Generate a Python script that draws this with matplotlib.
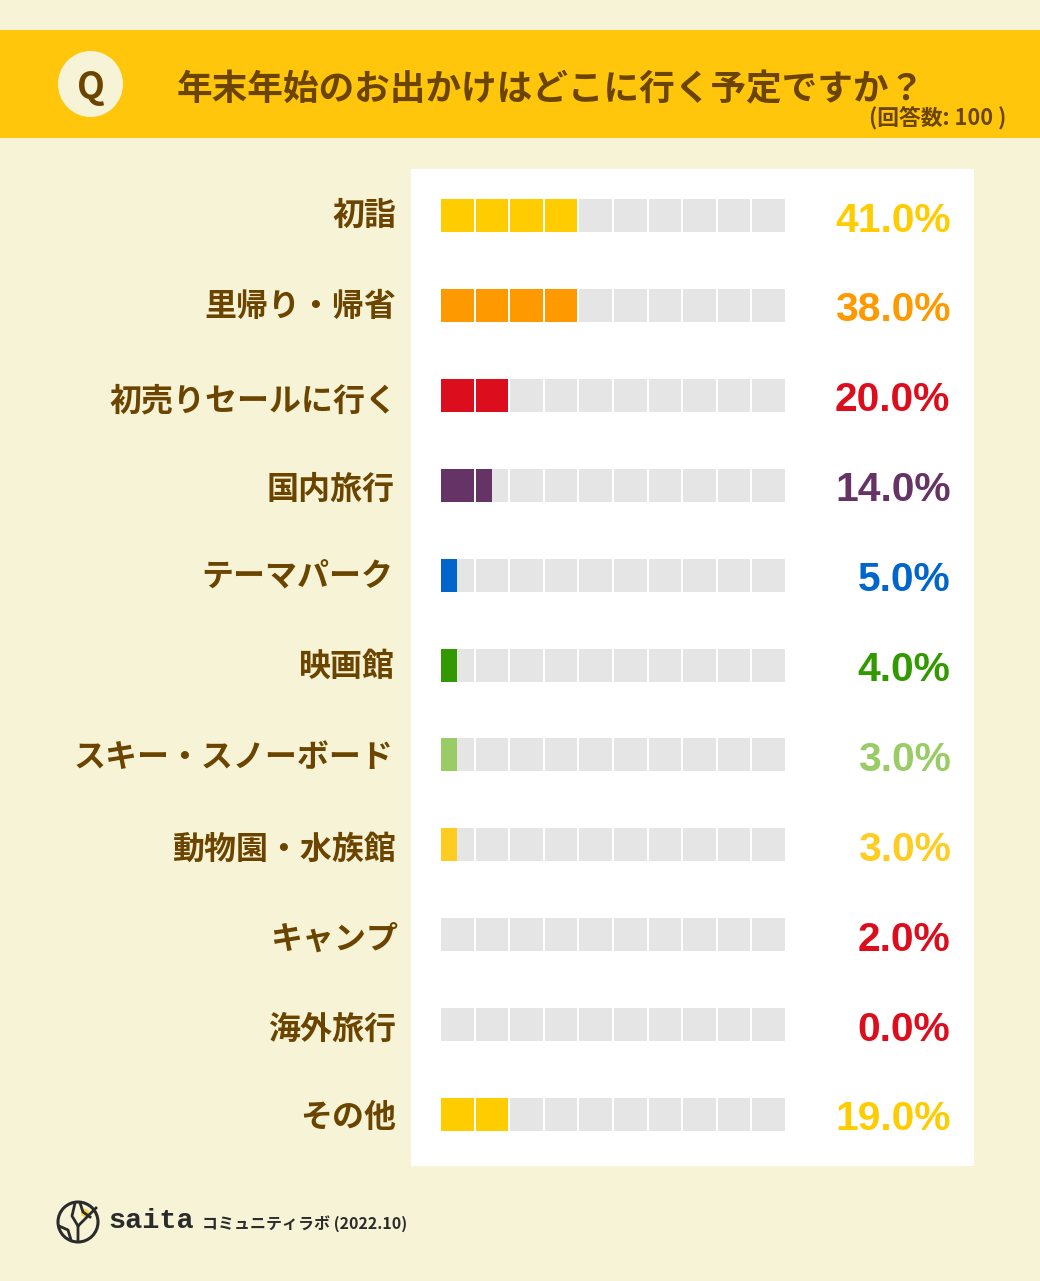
import numpy as np
import matplotlib
matplotlib.use('Agg')
import matplotlib.pyplot as plt
from matplotlib.patches import Rectangle, Ellipse

plt.rcParams['font.family'] = ['Noto Sans CJK JP', 'DejaVu Sans']

labels = ['初詣', '里帰り・帰省', '初売りセールに行く', '国内旅行', 'テーマパーク', '映画館',
          'スキー・スノーボード', '動物園・水族館', 'キャンプ', '海外旅行', 'その他']
percents = [41.0, 38.0, 20.0, 14.0, 5.0, 4.0, 3.0, 3.0, 2.0, 0.0, 19.0]
# the picture rounds each bar to half cells
filled = [4, 4, 2, 1.5, 0.5, 0.5, 0.5, 0.5, 0, 0, 2]
colors = ['#FFCC00', '#FF9900', '#DC0D1C', '#663366', '#0066CC', '#339900',
          '#99CC66', '#FFCC22', '#DC0D1C', '#DC0D1C', '#FFCC00']

title = '年末年始のお出かけはどこに行く予定ですか？'
count_label = '(回答数: 100 )'
footer = 'コミュニティラボ (2022.10)'
brand = 'saita'

bg = '#F7F3D6'
band = '#FFC60B'
brown = '#6B4500'
grey = '#E5E5E5'
dark = '#2B2B2B'

# layout in pixels
n_cells = 10
x0 = 441
pitch = 34.6
cell_w = 32.5
row0 = 215.5
row_step = 89.9
bar_h = 33
# the labels are not quite lined up in the original
label_y = [216, 307, 402, 490, 578, 667, 758, 850, 940, 1030, 1118]
label_right = [396, 396, 397, 395, 393, 395, 393, 396, 398, 396, 396]

fig = plt.figure(figsize=(10.4, 12.81), dpi=100, facecolor=bg)
ax = fig.add_axes([0, 0, 1, 1])
ax.set_xlim(0, 1040)
ax.set_ylim(1281, 0)
ax.axis('off')

ax.add_patch(Rectangle((0, 30), 1040, 108, color=band, lw=0))
ax.add_patch(Rectangle((411, 169), 563, 997, color='white', lw=0))
ax.add_patch(Ellipse((90.5, 84), 65, 66, color=bg, lw=0))

ax.text(90.5, 87, 'Q', color=brown, fontsize=26, fontweight='bold', ha='center', va='center')
ax.text(177, 90, title, color=brown, fontsize=25.7, fontweight='bold', ha='left', va='center')
ax.text(1006, 119, count_label, color=brown, fontsize=15.7, fontweight='bold', ha='right', va='center')

for i, name in enumerate(labels):
    y = row0 + i * row_step
    lefts = x0 + np.arange(n_cells) * pitch
    ax.barh([y] * n_cells, [cell_w] * n_cells, left=lefts, height=bar_h, color=grey, lw=0)

    # full cells, then half a cell if there is one left over
    whole = int(filled[i])
    if whole > 0:
        ax.barh([y] * whole, [cell_w] * whole, left=lefts[:whole], height=bar_h,
                color=colors[i], lw=0)
    if filled[i] - whole > 0:
        ax.barh(y, cell_w / 2, left=lefts[whole], height=bar_h, color=colors[i], lw=0)

    ax.text(label_right[i], label_y[i], name, color=brown, fontsize=23, fontweight='bold',
            ha='right', va='center')
    ax.text(950.5, y + 5, '%.1f%%' % percents[i], color=colors[i], fontsize=29.3,
            fontweight='bold', family='Liberation Sans', ha='right', va='center')

# logo
ax.add_patch(Ellipse((78, 1222), 40, 40, fill=False, ec=dark, lw=2.2))
ax.add_patch(Ellipse((85, 1213), 8, 8, color='#FFD23F', lw=0))
ax.plot([78, 78, 96], [1241, 1226, 1208], color=dark, lw=2)
ax.plot([75, 72, 78], [1203, 1216, 1226], color=dark, lw=2)
ax.plot([59, 68, 71], [1226, 1230, 1240], color=dark, lw=2)
ax.plot([80, 83, 90], [1203, 1212, 1217], color=dark, lw=2)

ax.text(108, 1221, brand, color=dark, fontsize=20.5, fontweight='bold',
        family='Liberation Mono', ha='left', va='center')
ax.text(202, 1224, footer, color=dark, fontsize=11.5, fontweight='bold', ha='left', va='center')

plt.savefig('out.png', dpi=100, facecolor=bg)
plt.close()
